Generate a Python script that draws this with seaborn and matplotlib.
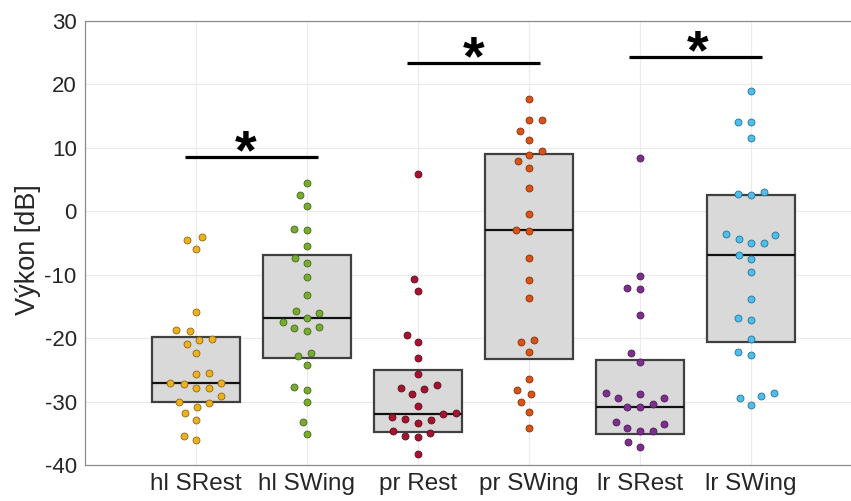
import numpy as np
import pandas as pd
import matplotlib
matplotlib.use("Agg")
import matplotlib.pyplot as plt
import seaborn as sns

categories = ["hl SRest", "hl SWing", "pr Rest", "pr SWing", "lr SRest", "lr SWing"]

hl_srest = [-4.1, -4.5, -5.9, -15.8, -18.7, -18.9, -20.1, -20.3, -21.0, -22.4, -25.5, -25.7,
            -27.0, -27.1, -27.2, -27.9, -27.9, -29.2, -30.0, -30.2, -30.9, -31.8, -32.9, -35.4, -36.1]
hl_swing = [4.4, 2.5, 0.8, -2.8, -3.0, -5.4, -7.4, -8.1, -10.3, -13.2, -15.7, -16.0, -16.8,
            -17.4, -18.2, -18.4, -18.9, -22.3, -22.8, -24.2, -27.7, -28.1, -30.1, -33.2, -35.1]
pr_rest = [5.8, -10.6, -12.5, -19.5, -20.6, -23.2, -25.6, -27.4, -27.9, -28.0, -28.85, -30.65,
           -31.95, -31.85, -32.4, -32.8, -32.9, -33.4, -34.6, -34.9, -35.5, -35.6, -38.3]
pr_swing = [17.75, 14.45, 14.4, 12.6, 11.2, 9.45, 8.9, 7.9, 6.8, 3.7, -0.5, -3.0, -3.05, -7.3,
            -10.9, -13.6, -20.3, -20.6, -22.2, -26.4, -28.1, -28.75, -30.0, -31.6, -34.2]
lr_srest = [8.35, -10.2, -12.1, -12.3, -16.3, -22.3, -23.8, -28.6, -28.8, -29.4, -29.4, -30.4,
            -30.9, -30.9, -33.2, -33.6, -34.2, -34.7, -34.7, -36.3, -37.1]
lr_swing = [19.0, 14.1, 14.0, 11.55, 3.0, 2.7, 2.57, -3.6, -3.8, -4.3, -4.95, -5.05, -6.9, -7.6,
            -9.6, -13.8, -16.8, -17.2, -20.1, -22.2, -22.6, -28.6, -29.2, -29.5, -30.5]
group_values = [hl_srest, hl_swing, pr_rest, pr_swing, lr_srest, lr_swing]

# box statistics
box_q1 = [-30.05, -23.2, -34.75, -23.3, -35.15, -20.65]
box_median = [-27.05, -16.8, -31.9, -3.0, -30.9, -6.9]
box_q3 = [-19.8, -6.9, -25.05, 9.0, -23.5, 2.6]

# significance brackets
sig_pairs = [(0, 1), (2, 3), (4, 5)]
sig_y = [8.55, 23.4, 24.3]
sig_star_x = [0.45, 2.5, 4.52]
sig_label = "*"

y_ticks = [-40, -30, -20, -10, 0, 10, 20, 30]

point_colors = ["#EDB120", "#77AC30", "#A2142F", "#D95319", "#7E2F8E", "#4DBEEE"]

sns.set_theme(style="white")
plt.rcParams["font.family"] = ["Liberation Sans", "DejaVu Sans"]

fig = plt.figure(figsize=(8.51, 5.01), dpi=100)
ax = fig.add_axes([85 / 851, 36 / 501, 777 / 851, 444 / 501])

stats = [dict(med=m, q1=a, q3=b, whislo=a, whishi=b, label=c)
         for a, m, b, c in zip(box_q1, box_median, box_q3, categories)]
ax.bxp(stats, positions=list(range(len(categories))), widths=0.8, patch_artist=True,
       showcaps=False, showfliers=False,
       boxprops=dict(facecolor="#d9d9d9", edgecolor="#404040", linewidth=1.6),
       medianprops=dict(color="#111111", linewidth=1.6),
       whiskerprops=dict(linewidth=0), zorder=2)

for cat, vals, col in zip(categories, group_values, point_colors):
    rgb = np.array(matplotlib.colors.to_rgb(col))
    sns.swarmplot(x=[cat] * len(vals), y=vals, order=categories, color=col,
                  edgecolor=tuple(rgb * 0.6), linewidth=0.6, size=8.5, ax=ax, zorder=3)

for (a, b), y, sx in zip(sig_pairs, sig_y, sig_star_x):
    ax.plot([a - 0.1, b + 0.1], [y, y], color="black", linewidth=2.3, zorder=4,
            solid_capstyle="butt")
    ax.text(sx, y - 1.8, sig_label, ha="center", va="baseline",
            fontsize=40, fontweight="bold", color="black", zorder=4)

ax.set_xlim(-1, 6)
ax.set_ylim(-40, 30)
ax.set_yticks(y_ticks)
ax.set_yticklabels([str(t) for t in y_ticks], fontsize=16, color="#262626")
ax.set_xticks(range(len(categories)))
ax.set_xticklabels(categories, fontsize=17.5, color="#262626")
ax.set_xlabel("")
ax.set_ylabel("Výkon [dB]", fontsize=19.5, color="#262626")
ax.yaxis.set_label_coords(-0.056, 0.484)

ax.grid(True, color="#ebebeb", linewidth=0.8)
ax.set_axisbelow(True)
for s in ax.spines.values():
    s.set_visible(True)
    s.set_color("#8c8c8c")
    s.set_linewidth(0.9)
ax.tick_params(direction="in", length=5, color="#8c8c8c", width=0.8, pad=6)

# lay out the swarms with a wider spacing, then freeze positions and shrink markers
fig.canvas.draw()
for coll in ax.collections:
    if "draw" in coll.__dict__:
        del coll.draw
    coll.set_sizes([5.0 ** 2])

fig.savefig("out.png", dpi=100)
